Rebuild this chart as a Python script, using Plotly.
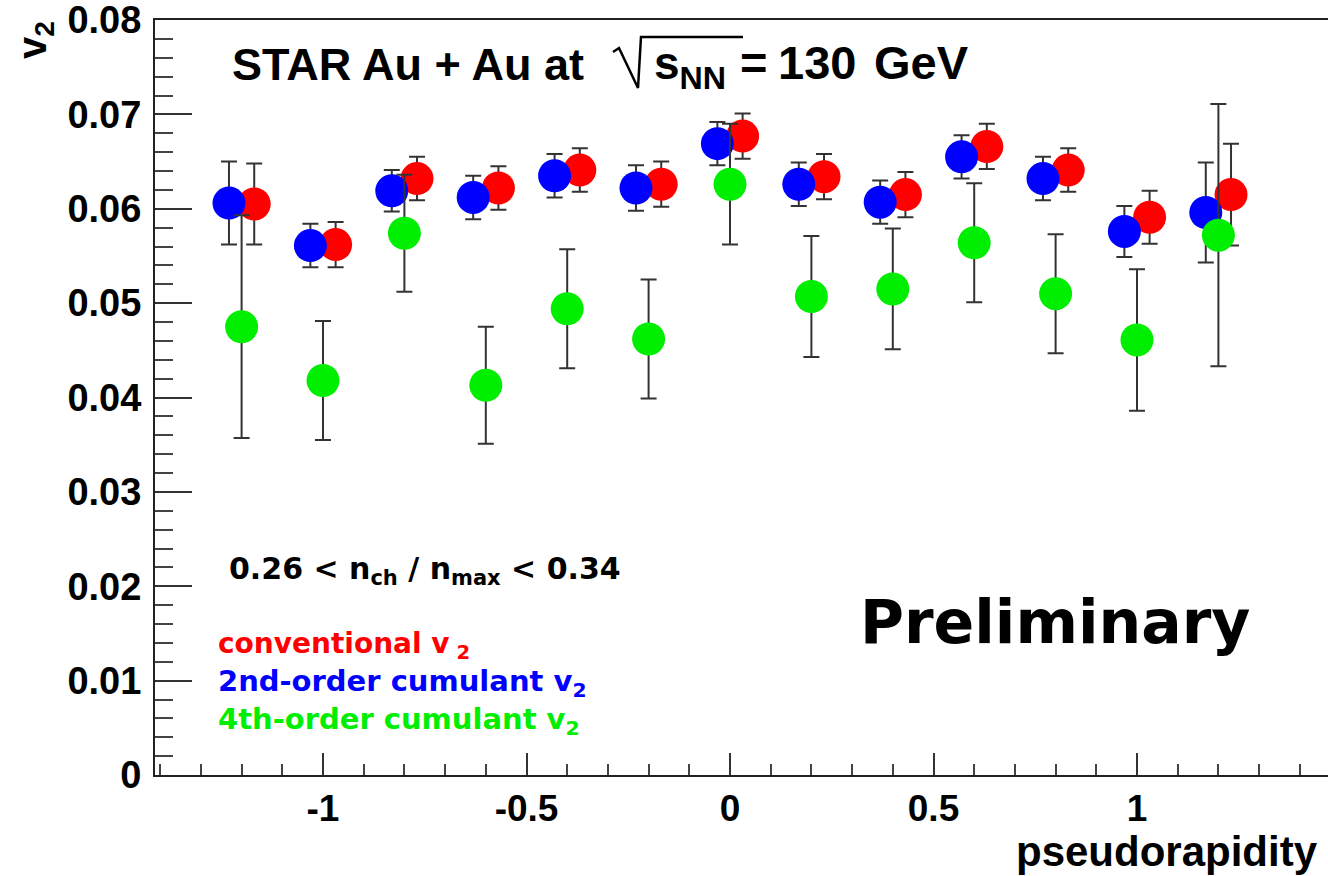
import plotly.graph_objects as go

# ---------------- data ----------------
eta = [-1.2, -1.0, -0.8, -0.6, -0.4, -0.2, 0.0, 0.2, 0.4, 0.6, 0.8, 1.0, 1.2]

v2_conventional = [0.0605, 0.0562, 0.0632, 0.0622, 0.0641, 0.0626, 0.0677,
                   0.0634, 0.0615, 0.0666, 0.0641, 0.0591, 0.0615]
err_conventional = [0.0043, 0.0024, 0.0023, 0.0023, 0.0023, 0.0024, 0.0024,
                    0.0024, 0.0024, 0.0024, 0.0023, 0.0028, 0.0054]

v2_cumulant2 = [0.0606, 0.0561, 0.0619, 0.0612, 0.0635, 0.0622, 0.0669,
                0.0626, 0.0607, 0.0655, 0.0632, 0.0576, 0.0596]
err_cumulant2 = [0.0044, 0.0023, 0.0022, 0.0023, 0.0023, 0.0024, 0.0023,
                 0.0023, 0.0023, 0.0023, 0.0023, 0.0027, 0.0053]

v2_cumulant4 = [0.0475, 0.0418, 0.0574, 0.0413, 0.0494, 0.0462, 0.0626,
                0.0507, 0.0515, 0.0564, 0.0510, 0.0461, 0.0572]
err_cumulant4 = [0.0118, 0.0063, 0.0062, 0.0062, 0.0063, 0.0063, 0.0064,
                 0.0064, 0.0064, 0.0063, 0.0063, 0.0075, 0.0139]

x_tick_vals = [-1, -0.5, 0, 0.5, 1]
x_tick_text = ["-1", "-0.5", "0", "0.5", "1"]
y_tick_vals = [0, 0.01, 0.02, 0.03, 0.04, 0.05, 0.06, 0.07, 0.08]
y_tick_text = ["0", "0.01", "0.02", "0.03", "0.04", "0.05", "0.06", "0.07", "0.08"]

# ---------------- layout geometry ----------------
W, H = 1328, 876
L, R, T, B = 155, 0, 20, 101
PW, PH = W - L - R, H - T - B
SHIFT = 0.031  # horizontal offset between methods


def px(x):
    return (x - L) / PW


def py(y):
    return (H - B - y) / PH


err_style = dict(type="data", color="#333333", thickness=2, width=8, visible=True)

fig = go.Figure()
series = [
    (v2_conventional, err_conventional, "#ff0000", +SHIFT, "conventional v2"),
    (v2_cumulant2, err_cumulant2, "#0000ff", -SHIFT, "2nd-order cumulant v2"),
    (v2_cumulant4, err_cumulant4, "#00ee00", 0.0, "4th-order cumulant v2"),
]
for vals, errs, col, dx, name in series:
    fig.add_trace(go.Scatter(
        x=[e + dx for e in eta], y=vals, mode="markers", name=name,
        marker=dict(size=33, color=col, line=dict(width=0)),
        error_y=dict(array=errs, **err_style),
    ))

tick_font = dict(family="Liberation Sans, Arial", size=38, color="black", weight="bold")
xtick_font = dict(family="Liberation Sans, Arial", size=37, color="black", weight="bold")

fig.update_layout(
    width=W, height=H,
    margin=dict(l=L, r=R, t=T, b=B, pad=0),
    paper_bgcolor="white", plot_bgcolor="white",
    showlegend=False,
    xaxis=dict(
        range=[(L - 730) / 407, (W - R - 730) / 407],
        showline=True, linecolor="#222222", linewidth=2, mirror=True,
        showgrid=False, zeroline=False,
        tickmode="array", tickvals=x_tick_vals, ticktext=x_tick_text,
        ticks="inside", ticklen=22, tickwidth=2, tickcolor="#333333",
        minor=dict(tickmode="linear", tick0=0, dtick=0.1, ticks="inside",
                   ticklen=11, tickwidth=2, tickcolor="#444444", showgrid=False),
        tickfont=xtick_font, ticklabelstandoff=0, ticklabeloverflow="allow",
    ),
    yaxis=dict(
        range=[0, 0.08],
        showline=True, linecolor="#222222", linewidth=2, mirror=False,
        showgrid=False, zeroline=False,
        tickmode="array", tickvals=y_tick_vals, ticktext=y_tick_text,
        ticks="inside", ticklen=37, tickwidth=2, tickcolor="#333333",
        minor=dict(tickmode="linear", tick0=0, dtick=0.002, ticks="inside",
                   ticklen=18, tickwidth=2, tickcolor="#444444", showgrid=False),
        tickfont=tick_font, ticklabelstandoff=4, ticklabeloverflow="allow",
    ),
)

ann = []
# axis titles
ann.append(dict(x=px(1319), y=py(876), xref="paper", yref="paper", xanchor="right",
                yanchor="bottom", showarrow=False, text="pseudorapidity", borderpad=0,
                font=dict(family="Liberation Sans, Arial", size=42, color="black", weight="bold")))
ann.append(dict(x=px(35), y=py(40), xref="paper", yref="paper", xanchor="center",
                yanchor="middle", showarrow=False, text="v<sub>2</sub>", textangle=-90,
                font=dict(family="Liberation Sans, Arial", size=40, color="black", weight="bold")))
# header
hdr = dict(family="Liberation Sans, Arial", size=47, color="black", weight="bold")
ann.append(dict(x=px(230), y=py(64), xref="paper", yref="paper", xanchor="left",
                yanchor="middle", showarrow=False, text="STAR Au + Au at",
                font=dict(family="Liberation Sans, Arial", size=45, color="black", weight="bold")))
ann.append(dict(x=px(652), y=py(66), xref="paper", yref="paper", xanchor="left",
                yanchor="middle", showarrow=False, text="s<sub>NN</sub>",
                font=dict(family="Liberation Sans, Arial", size=46, color="black", weight="bold")))
ann.append(dict(x=px(738), y=py(63), xref="paper", yref="paper", xanchor="left",
                yanchor="middle", showarrow=False, text="=", font=hdr))
ann.append(dict(x=px(776), y=py(63), xref="paper", yref="paper", xanchor="left",
                yanchor="middle", showarrow=False, text="130", font=hdr))
ann.append(dict(x=px(872), y=py(63), xref="paper", yref="paper", xanchor="left",
                yanchor="middle", showarrow=False, text="GeV", font=hdr))
# centrality text
ann.append(dict(x=px(227), y=py(570), xref="paper", yref="paper", xanchor="left",
                yanchor="middle", showarrow=False,
                text="0.26 < n<sub>ch</sub> / n<sub>max</sub> < 0.34",
                font=dict(family="DejaVu Sans", size=30, color="black", weight="bold")))
# legend texts
for txt, col, yc, fs in [("conventional v<sub> 2</sub>", "#ff0000", 645, 28),
                         ("2nd-order cumulant v<sub>2</sub>", "#0000ff", 683, 29),
                         ("4th-order cumulant v<sub>2</sub>", "#00ee00", 721, 29)]:
    ann.append(dict(x=px(216), y=py(yc), xref="paper", yref="paper", xanchor="left",
                    yanchor="middle", showarrow=False, text=txt,
                    font=dict(family="DejaVu Sans", size=fs, weight="bold", color=col)))
# preliminary
ann.append(dict(x=px(1252), y=py(622), xref="paper", yref="paper", xanchor="right",
                yanchor="middle", showarrow=False, text="Preliminary",
                font=dict(family="DejaVu Sans", size=60, color="black", weight="bold")))
fig.update_layout(annotations=ann)

# radical sign for sqrt(s_NN)
pts = [(613, 52), (619, 48), (638, 88), (641, 37), (743, 37)]
path = "M " + " L ".join(f"{px(a):.5f},{py(b):.5f}" for a, b in pts)
fig.add_shape(type="path", path=path, xref="paper", yref="paper",
              line=dict(color="black", width=2.5))

fig.write_html("out.html")
